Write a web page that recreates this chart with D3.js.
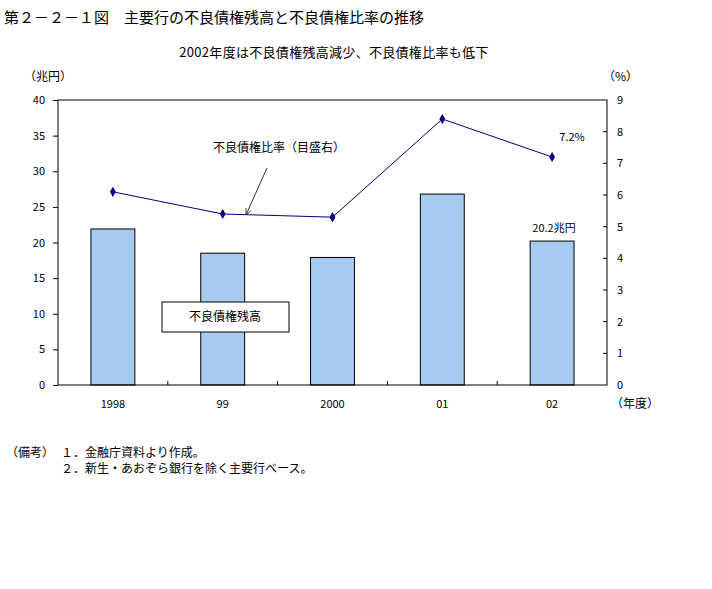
<!DOCTYPE html>
<html><head><meta charset="utf-8">
<script src="https://cdn.jsdelivr.net/npm/d3@7"></script>
<style>
body{margin:0;background:#fff;}
text{font-family:"Noto Sans CJK JP","Noto Sans",sans-serif;fill:#000;}
</style></head>
<body><svg id="c" width="712" height="589"></svg>
<script>
const categories = ["1998","99","2000","01","02"];
const nplAmount = [21.9, 18.5, 17.9, 26.8, 20.2];   // 兆円
const nplRatio  = [6.1, 5.4, 5.3, 8.4, 7.2];         // %
const leftTicks = [0,5,10,15,20,25,30,35,40];
const rightTicks = [0,1,2,3,4,5,6,7,8,9];

const svg = d3.select("#c");
const L = 58, R = 607, T = 100, B = 385;

const x = d3.scaleBand().domain(categories).range([L, R]).padding(0);
const yL = d3.scaleLinear().domain([0, 40]).range([B, T]);
const yR = d3.scaleLinear().domain([0, 9]).range([B, T]);

// title
svg.append("text").attr("x", 4).attr("y", 23).attr("font-size", 15)
  .text("第２－２－１図　主要行の不良債権残高と不良債権比率の推移");
svg.append("text").attr("x", 334).attr("y", 57).attr("font-size", 13).attr("letter-spacing", 0.3).attr("text-anchor", "middle")
  .text("2002年度は不良債権残高減少、不良債権比率も低下");

// bars
const bw = x.bandwidth() * 0.4;
svg.append("g").selectAll("rect").data(categories).join("rect")
  .attr("x", d => x(d) + x.bandwidth()/2 - bw/2)
  .attr("y", (d,i) => yL(nplAmount[i]))
  .attr("width", bw)
  .attr("height", (d,i) => B - yL(nplAmount[i]))
  .attr("fill", "#a6caf0").attr("stroke", "#000").attr("stroke-width", 1);

// frame
svg.append("rect").attr("x", L).attr("y", T).attr("width", R-L).attr("height", B-T)
  .attr("fill", "none").attr("stroke", "#000").attr("stroke-width", 1);

// left axis
const gl = svg.append("g").attr("transform", `translate(${L},0)`)
  .call(d3.axisLeft(yL).tickValues(leftTicks).tickSize(5).tickPadding(8));
gl.select(".domain").remove();
gl.selectAll("text").attr("font-size", 11).style("font-family", '"Noto Sans CJK JP",sans-serif');
gl.selectAll("line").attr("stroke", "#000");

// right axis (inward ticks)
const gr = svg.append("g").attr("transform", `translate(${R},0)`)
  .call(d3.axisRight(yR).tickValues(rightTicks).tickSize(0).tickPadding(10));
gr.select(".domain").remove();
gr.selectAll("text").attr("font-size", 11).style("font-family", '"Noto Sans CJK JP",sans-serif');
svg.append("g").selectAll("line").data(rightTicks.slice(1, -1)).join("line")
  .attr("x1", R - 4).attr("x2", R).attr("y1", d => yR(d)).attr("y2", d => yR(d))
  .attr("stroke", "#000");

// bottom category separators (inward ticks)
svg.append("g").selectAll("line").data(categories.slice(1)).join("line")
  .attr("x1", d => x(d)).attr("x2", d => x(d)).attr("y1", B).attr("y2", B - 4)
  .attr("stroke", "#000");
// category labels
svg.append("g").selectAll("text").data(categories).join("text")
  .attr("x", d => x(d) + x.bandwidth()/2).attr("y", 408)
  .attr("text-anchor", "middle").attr("font-size", 11).text(d => d);

// axis unit labels
svg.append("text").attr("x", 24).attr("y", 81).attr("font-size", 12).text("（兆円）");
svg.append("text").attr("x", 603).attr("y", 81).attr("font-size", 12).text("（%）");
svg.append("text").attr("x", 611).attr("y", 408).attr("font-size", 12).text("（年度）");

// line
const line = d3.line().x((d,i) => x(categories[i]) + x.bandwidth()/2).y(d => yR(d));
svg.append("path").datum(nplRatio).attr("d", line)
  .attr("fill", "none").attr("stroke", "#000080").attr("stroke-width", 1);
svg.append("g").selectAll("path").data(nplRatio).join("path")
  .attr("d", d3.symbol(d3.symbolDiamond, 30))
  .attr("transform", (d,i) => `translate(${x(categories[i]) + x.bandwidth()/2},${yR(d)})`)
  .attr("fill", "#000080");

// value labels
svg.append("text").attr("x", 572).attr("y", 141).attr("font-size", 11).attr("text-anchor", "middle").text("7.2%");
svg.append("text").attr("x", 554).attr("y", 232).attr("font-size", 11).attr("text-anchor", "middle").text("20.2兆円");

// annotation for ratio
svg.append("text").attr("x", 279).attr("y", 152).attr("font-size", 12).attr("text-anchor", "middle").text("不良債権比率（目盛右）");
svg.append("defs").append("marker").attr("id", "ah").attr("viewBox", "0 0 10 10")
  .attr("refX", 9).attr("refY", 5).attr("markerWidth", 7).attr("markerHeight", 7).attr("orient", "auto")
  .append("path").attr("d", "M0,1 L9,5 L0,9").attr("fill", "none").attr("stroke", "#333").attr("stroke-width", 1.2);
svg.append("line").attr("x1", 267).attr("y1", 168).attr("x2", 246).attr("y2", 215)
  .attr("stroke", "#333").attr("stroke-width", 1).attr("marker-end", "url(#ah)");

// box label for bars
svg.append("rect").attr("x", 162).attr("y", 302).attr("width", 127).attr("height", 30)
  .attr("fill", "#fff").attr("stroke", "#000").attr("stroke-width", 1);
svg.append("text").attr("x", 225).attr("y", 321).attr("font-size", 12).attr("text-anchor", "middle").text("不良債権残高");

// notes
svg.append("text").attr("x", 6).attr("y", 457).attr("font-size", 12).text("（備考）");
svg.append("text").attr("x", 61).attr("y", 457).attr("font-size", 12).text("１．金融庁資料より作成。");
svg.append("text").attr("x", 61).attr("y", 473).attr("font-size", 12).text("２．新生・あおぞら銀行を除く主要行ベース。");
</script></body></html>
